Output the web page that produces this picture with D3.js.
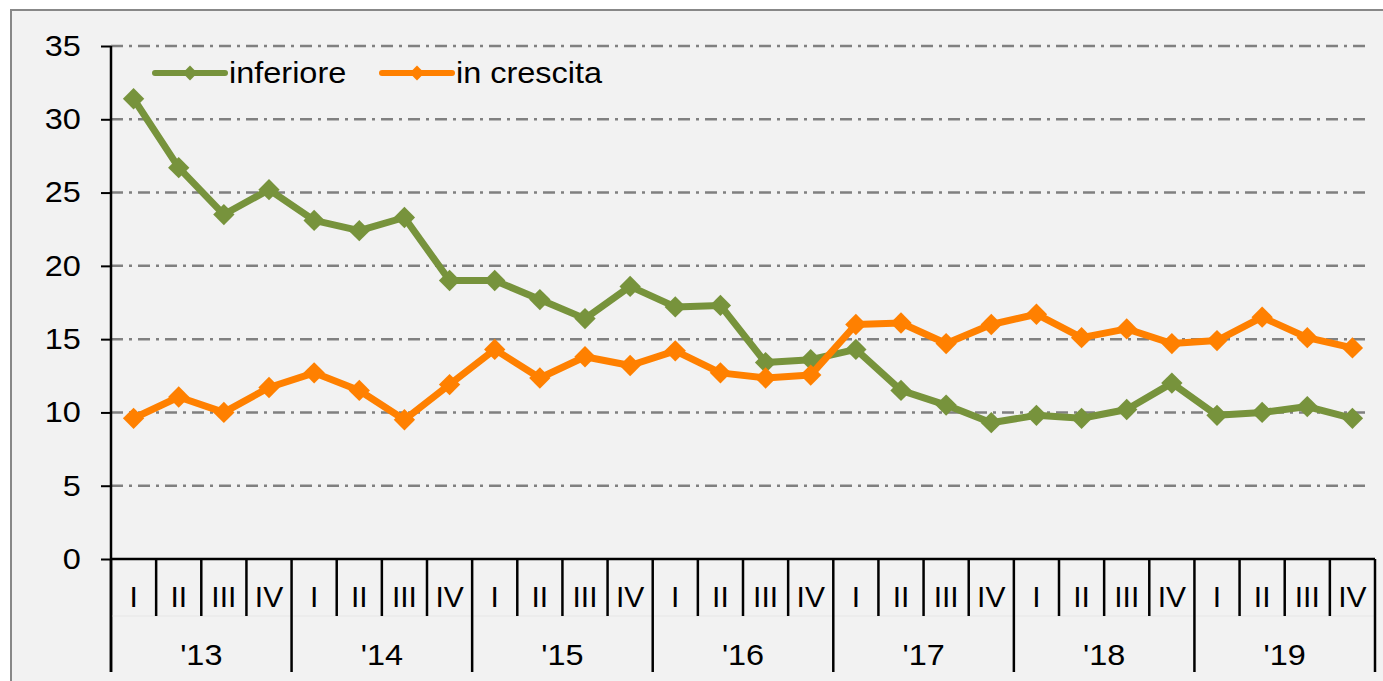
<!DOCTYPE html>
<meta charset="utf-8">
<style>
body { margin: 0; background: #fff; }
text { font-family: "Liberation Sans", Arial, sans-serif; fill: #000; }
.grid line { stroke: #808080; stroke-width: 2.5px; stroke-dasharray: 12 6 3 6; }
.line { fill: none; stroke-width: 7px; stroke-linejoin: round; }
</style>
<body>
<script src="https://d3js.org/d3.v7.min.js"></script>
<script>

// data (percent), quarters 2013-2019
var years = ["'13", "'14", "'15", "'16", "'17", "'18", "'19"];
var quarters = ["I", "II", "III", "IV"];
var inferiore = [31.4, 26.7, 23.5, 25.2, 23.1, 22.4, 23.3, 19.0,
                 19.0, 17.7, 16.4, 18.6, 17.2, 17.3, 13.4, 13.6,
                 14.3, 11.5, 10.5, 9.3, 9.8, 9.6, 10.2, 12.0,
                 9.8, 10.0, 10.4, 9.6];
var inCrescita = [9.6, 11.05, 10.0, 11.7, 12.7, 11.5, 9.5, 11.9,
                  14.3, 12.35, 13.8, 13.2, 14.2, 12.7, 12.35, 12.55,
                  16.0, 16.1, 14.7, 16.0, 16.7, 15.1, 15.7, 14.7,
                  14.9, 16.5, 15.1, 14.4];
var yTicks = [0, 5, 10, 15, 20, 25, 30, 35];

var series = [
  {name: "inferiore", color: "#77933c", values: inferiore},
  {name: "in crescita", color: "#ff8000", values: inCrescita}
];

var W = 1383, H = 681;
var m = {left: 111, right: 1375, top: 46, bottom: 559};

var svg = d3.select("body").append("svg")
    .attr("width", W)
    .attr("height", H);

// chart frame
svg.append("rect")
    .attr("x", 11).attr("y", 10)
    .attr("width", W).attr("height", H)
    .attr("fill", "#f2f2f2")
    .attr("stroke", "#888")
    .attr("stroke-width", 2);

var idx = d3.range(years.length * quarters.length);
var x = d3.scaleBand().domain(idx).range([m.left, m.right]).padding(0);
var y = d3.scaleLinear().domain([0, 35]).range([m.bottom, m.top]);

// grid lines
svg.append("g").attr("class", "grid")
  .selectAll("line")
  .data(yTicks.filter(d => d > 0))
  .enter().append("line")
    .attr("x1", m.left).attr("x2", m.right - 4)
    .attr("y1", d => y(d)).attr("y2", d => y(d));

// y axis
var yAxis = svg.append("g")
    .attr("transform", "translate(" + m.left + ",0)")
    .call(d3.axisLeft(y).tickValues(yTicks).tickSize(10).tickPadding(17).tickSizeOuter(0));
yAxis.select(".domain").remove();
yAxis.selectAll("line").attr("stroke", "#000").attr("stroke-width", 2);
yAxis.selectAll("text")
    .attr("fill", "#000")
    .attr("transform", "scale(1.12,1)")
    .style("font-size", "29px")
    .style("font-family", "Liberation Sans, Arial, sans-serif");

svg.append("line")
    .attr("x1", m.left).attr("x2", m.left)
    .attr("y1", m.top).attr("y2", 672)
    .attr("stroke", "#000").attr("stroke-width", 2.5);

// x axis baseline
svg.append("line")
    .attr("x1", m.left).attr("x2", m.right)
    .attr("y1", m.bottom).attr("y2", m.bottom)
    .attr("stroke", "#000").attr("stroke-width", 2.5);

// faint separator under the quarter row
svg.append("line")
    .attr("x1", m.left).attr("x2", m.right)
    .attr("y1", 616).attr("y2", 616)
    .attr("stroke", "#e6e6e6").attr("stroke-width", 1);

// category boundaries
var bounds = d3.range(idx.length + 1);
svg.append("g").selectAll("line")
  .data(bounds)
  .enter().append("line")
    .attr("x1", d => m.left + d * x.bandwidth())
    .attr("x2", d => m.left + d * x.bandwidth())
    .attr("y1", m.bottom)
    .attr("y2", d => d % 4 === 0 ? 672 : 616)
    .attr("stroke", "#000").attr("stroke-width", 2.5);

// quarter labels
svg.append("g").selectAll("text")
  .data(idx)
  .enter().append("text")
    .attr("transform", d => "translate(" + (x(d) + x.bandwidth() / 2) + ",607)")
    .attr("text-anchor", "middle")
    .style("font-size", "30px")
    .text(d => quarters[d % 4]);

// year labels
svg.append("g").selectAll("text")
  .data(years)
  .enter().append("text")
    .attr("transform", (d, i) => "translate(" + (x(i * 4) + 2 * x.bandwidth()) + ",665) scale(1.08,1)")
    .attr("text-anchor", "middle")
    .style("font-size", "30px")
    .text(d => d);

// lines + markers
var line = d3.line()
    .x((d, i) => x(i) + x.bandwidth() / 2)
    .y(d => y(d));

var diamond = d3.symbol().type(d3.symbolDiamond2).size(290);

series.forEach(function(s) {
  var g = svg.append("g");
  g.append("path")
      .datum(s.values)
      .attr("class", "line")
      .attr("stroke", s.color)
      .attr("d", line);
  g.selectAll("path.mk")
    .data(s.values)
    .enter().append("path")
      .attr("class", "mk")
      .attr("fill", s.color)
      .attr("transform", (d, i) => "translate(" + (x(i) + x.bandwidth() / 2) + "," + y(d) + ")")
      .attr("d", diamond);
});

// legend
var legendX = [155, 382];
var legend = svg.append("g").selectAll("g")
  .data(series)
  .enter().append("g")
    .attr("transform", (d, i) => "translate(" + legendX[i] + ",73)");
legend.append("line")
    .attr("x1", 0).attr("x2", 70)
    .attr("stroke", d => d.color)
    .attr("stroke-width", 6)
    .attr("stroke-linecap", "round");
legend.append("path")
    .attr("transform", "translate(35,0)")
    .attr("fill", d => d.color)
    .attr("d", d3.symbol().type(d3.symbolDiamond2).size(140));
legend.append("text")
    .attr("transform", "translate(74,10) scale(1.12,1)")
    .style("font-size", "29px")
    .text(d => d.name);

</script>
</body>
